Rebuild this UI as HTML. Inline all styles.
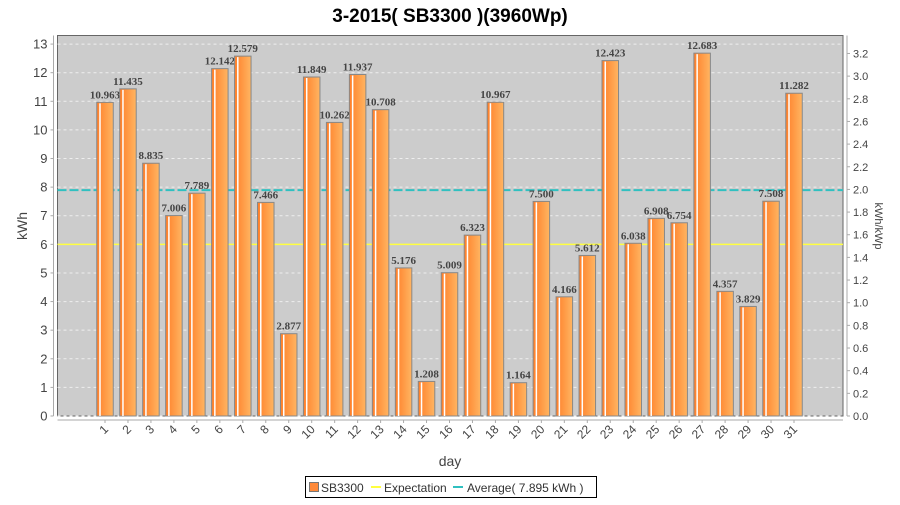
<!DOCTYPE html>
<html><head><meta charset="utf-8"><style>
body{margin:0;background:#fff;font-family:"Liberation Sans","DejaVu Sans",sans-serif}
svg text{font-family:"Liberation Sans","DejaVu Sans",sans-serif}
</style></head><body>
<svg id="chart" width="900" height="500" xmlns="http://www.w3.org/2000/svg">
<defs>
<linearGradient id="bg" x1="0" x2="1" y1="0" y2="0">
<stop offset="0" stop-color="#ff7f2a"/><stop offset="0.5" stop-color="#ff9a45"/><stop offset="1" stop-color="#ffb562"/>
</linearGradient>
</defs>
<text x="450" y="22" text-anchor="middle" font-size="19" font-weight="bold" fill="#000">3-2015( SB3300 )(3960Wp)</text>
<rect x="57.5" y="35.5" width="785.5" height="380.5" fill="#cccccc" stroke="#666" stroke-width="1"/>
<g id="grid"></g><g id="lines"></g><g id="bars"></g><g id="axes"></g>
<text transform="translate(27,226) rotate(-90)" text-anchor="middle" font-size="14" fill="#444">kWh</text>
<text transform="translate(875,226) rotate(90)" text-anchor="middle" font-size="11" fill="#444">kWh/kWp</text>
<text x="450" y="466" text-anchor="middle" font-size="14" fill="#444">day</text>
<g>
<rect x="305.5" y="476.5" width="291" height="21" fill="#fff" stroke="#000"/>
<g><rect x="309.5" y="482.5" width="9" height="9" fill="#ff8a3a" stroke="#777"/><text x="321" y="492" font-size="12" fill="#333">SB3300</text></g>
<g><line x1="371" x2="381" y1="487" y2="487" stroke="#ffff40" stroke-width="2"/><text x="384" y="492" font-size="12" fill="#333">Expectation</text></g>
<g><line x1="453" x2="463" y1="487" y2="487" stroke="#30c0c0" stroke-width="2"/><text x="467" y="492" font-size="12" fill="#333">Average( 7.895 kWh )</text></g>
</g>
</svg>
<script>
const days=["1","2","3","4","5","6","7","8","9","10","11","12","13","14","15","16","17","18","19","20","21","22","23","24","25","26","27","28","29","30","31"];
const values=[10.963,11.435,8.835,7.006,7.789,12.142,12.579,7.466,2.877,11.849,10.262,11.937,10.708,5.176,1.208,5.009,6.323,10.967,1.164,7.500,4.166,5.612,12.423,6.038,6.908,6.754,12.683,4.357,3.829,7.508,11.282];
const valueLabels=["10.963","11.435","8.835","7.006","7.789","12.142","12.579","7.466","2.877","11.849","10.262","11.937","10.708","5.176","1.208","5.009","6.323","10.967","1.164","7.500","4.166","5.612","12.423","6.038","6.908","6.754","12.683","4.357","3.829","7.508","11.282"];
const expectation=6.0;
const average=7.895;
const yTicks=[0,1,2,3,4,5,6,7,8,9,10,11,12,13];
const y2Ticks=[0,0.2,0.4,0.6,0.8,1.0,1.2,1.4,1.6,1.8,2.0,2.2,2.4,2.6,2.8,3.0,3.2];
const wp=3.96;
const NS="http://www.w3.org/2000/svg";
const L=57.5,R=843,T=35.5,B=416,YMAX=13.3;
const y=v=>B-(v/YMAX)*(B-T);
const y2=v=>y(v*wp);
const x=i=>105+i*(794-105)/(days.length-1);
function mk(t,a,p){const e=document.createElementNS(NS,t);for(const k in a)e.setAttribute(k,a[k]);p.appendChild(e);return e;}
const grid=document.getElementById('grid'),axes=document.getElementById('axes'),bars=document.getElementById('bars'),lines=document.getElementById('lines');
mk('line',{x1:L-4,x2:L-4,y1:T,y2:B,stroke:'#aaa'},axes);
mk('line',{x1:R+4,x2:R+4,y1:T,y2:B,stroke:'#aaa'},axes);
mk('line',{x1:L,x2:R,y1:B+4,y2:B+4,stroke:'#aaa'},axes);
yTicks.forEach(v=>{
 const g=mk('line',{x1:L,x2:R,y1:y(v),y2:y(v),stroke:'#eee','stroke-dasharray':'3,3','stroke-width':1},grid);
 
 mk('line',{x1:L-7,x2:L-4,y1:y(v),y2:y(v),stroke:'#aaa'},axes);
 const t=mk('text',{x:L-10,y:y(v)+4.5,'text-anchor':'end','font-size':13,fill:'#444'},axes);t.textContent=v;
 
});
y2Ticks.forEach(v=>{
 mk('line',{x1:R+4,x2:R+7,y1:y2(v),y2:y2(v),stroke:'#aaa'},axes);
 const t=mk('text',{x:R+10,y:y2(v)+4,'font-size':11,fill:'#444'},axes);t.textContent=v.toFixed(1);
 
});
const le=mk('line',{x1:L,x2:R,y1:y(expectation),y2:y(expectation),stroke:'#ffff40','stroke-width':1.5},lines);

const la=mk('line',{x1:L,x2:R,y1:y(average),y2:y(average),stroke:'#30c0c0','stroke-width':2,'stroke-dasharray':'9,3'},lines);

const bw=16.5;
days.forEach((d,i)=>{
 const cx=x(i),v=values[i];
 const g=mk('g',{},bars);
 
 mk('rect',{x:cx-bw/2,y:y(v),width:bw,height:B-y(v),fill:'url(#bg)',stroke:'#888','stroke-width':1},g);
 mk('rect',{x:cx-bw/2+2.5,y:y(v)+1,width:1.5,height:B-y(v)-1,fill:'#fff'},g);
 const t=mk('text',{x:cx,y:y(v)-4,'text-anchor':'middle','font-size':11,'font-weight':'bold',fill:'#444','font-family':'Liberation Serif, serif'},g);
 t.textContent=valueLabels[i];t.setAttribute('style','font-family:"Liberation Serif",serif');
 mk('line',{x1:cx,x2:cx,y1:B+4,y2:B+7,stroke:'#aaa'},axes);
 const xt=mk('text',{transform:`translate(${cx+4},${B+14}) rotate(-45)`,'text-anchor':'end','font-size':12,fill:'#444'},axes);
 xt.textContent=d;
});
</script>
</body></html>
